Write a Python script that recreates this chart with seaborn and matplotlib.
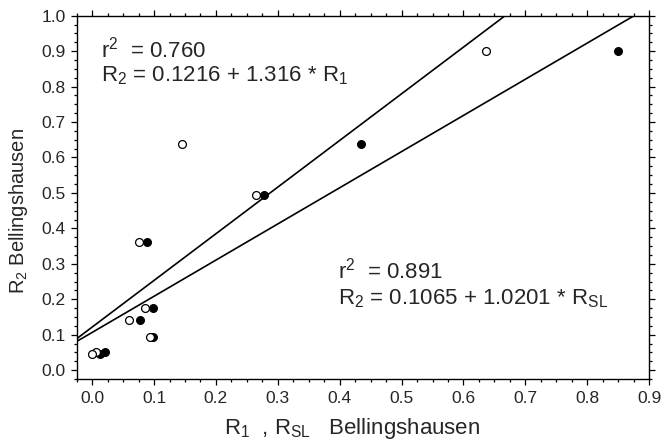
import numpy as np
import pandas as pd
import seaborn as sns
import matplotlib.pyplot as plt
from matplotlib.ticker import MultipleLocator

# -------------------------------
# Data
# -------------------------------
r2_vals = [0.900, 0.638, 0.494, 0.362, 0.176, 0.142, 0.093, 0.050, 0.046]
r1_vals = [0.637, 0.146, 0.264, 0.075, 0.086, 0.059, 0.093, 0.007, 0.000]
rsl_vals = [0.850, 0.434, 0.277, 0.088, 0.099, 0.077, 0.098, 0.020, 0.012]

# fitted lines from the chart text: (intercept, slope)
fit_r1 = (0.1216, 1.316)
fit_rsl = (0.1065, 1.0201)

sns.set_theme(style="ticks")
plt.rcParams['font.family'] = ['Liberation Sans', 'DejaVu Sans']
plt.rcParams['mathtext.fontset'] = 'custom'
plt.rcParams['mathtext.rm'] = 'Liberation Sans'

df = pd.DataFrame({'R1': r1_vals, 'RSL': rsl_vals, 'R2': r2_vals})

fig = plt.figure(figsize=(6.61, 4.47), dpi=100)
ax = fig.add_axes([0.116, 0.152, 0.866, 0.813])

# regression lines
ax.axline((0, fit_r1[0]), slope=fit_r1[1], color='black', lw=1.2, zorder=1)
ax.axline((0, fit_rsl[0]), slope=fit_rsl[1], color='black', lw=1.2, zorder=1)

# points: open = R1, filled = RSL
sns.scatterplot(data=df, x='RSL', y='R2', ax=ax, s=32, color='black',
                edgecolor='black', linewidth=0.8, zorder=3)
sns.scatterplot(data=df, x='R1', y='R2', ax=ax, s=32, color='white',
                edgecolor='black', linewidth=0.9, zorder=4)

ax.set_xlim(-0.025, 0.9)
ax.set_ylim(-0.025, 1.0)
ax.xaxis.set_major_locator(MultipleLocator(0.1))
ax.xaxis.set_minor_locator(MultipleLocator(0.025))
ax.yaxis.set_major_locator(MultipleLocator(0.1))
ax.yaxis.set_minor_locator(MultipleLocator(0.025))
ax.xaxis.set_major_formatter(plt.FormatStrFormatter('%.1f'))
ax.yaxis.set_major_formatter(plt.FormatStrFormatter('%.1f'))

ax.tick_params(which='both', direction='out', top=True, right=True,
               labeltop=False, labelright=False, color='black', width=0.9)
ax.tick_params(which='major', length=4, labelsize=12.5)
ax.tick_params(axis='x', which='major', pad=4.5)
ax.tick_params(axis='y', which='major', pad=4)
ax.tick_params(which='minor', length=2.2)
for sp in ax.spines.values():
    sp.set_visible(True)
    sp.set_color('black')
    sp.set_linewidth(1.0)

ax.set_xlabel(r'R$\mathregular{_1}$  , R$\mathregular{_{SL}}$   Bellingshausen',
              fontsize=16)
ax.set_ylabel(r'R$\mathregular{_2}$ Bellingshausen', fontsize=14.5)
ax.xaxis.set_label_coords(0.481, -0.102)
ax.yaxis.set_label_coords(-0.082, 0.462)

ax.text(0.015, 0.904, r'r$\mathregular{^2}$  = 0.760', fontsize=16, va='center')
ax.text(0.015, 0.83, r'R$\mathregular{_2}$ = 0.1216 + 1.316 * R$\mathregular{_1}$',
        fontsize=16, va='center')
ax.text(0.397, 0.28, r'r$\mathregular{^2}$  = 0.891', fontsize=16, va='center')
ax.text(0.397, 0.203, r'R$\mathregular{_2}$ = 0.1065 + 1.0201 * R$\mathregular{_{SL}}$',
        fontsize=16, va='center')

fig.savefig('out.png', dpi=100)
